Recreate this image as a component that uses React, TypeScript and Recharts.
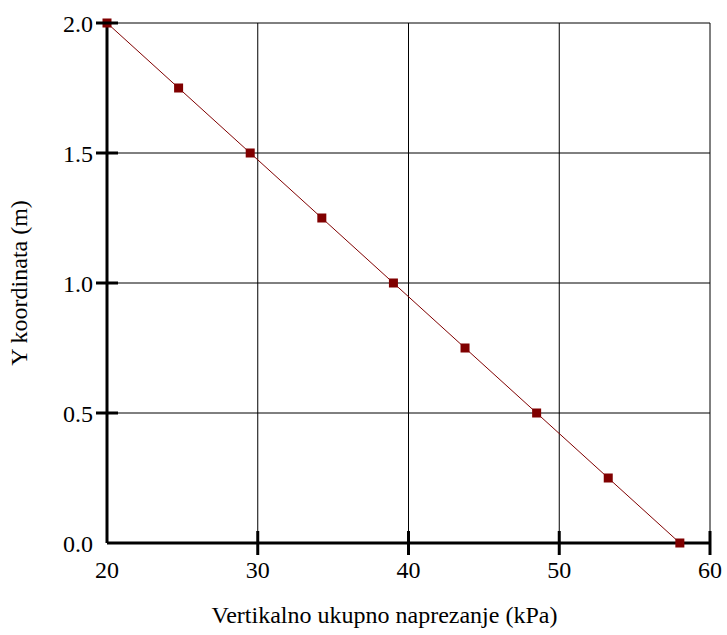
import { LineChart, Line, XAxis, YAxis, CartesianGrid, Label } from 'recharts'

// vertical total stress along the depth coordinate
const stress = [20, 24.75, 29.5, 34.25, 39.0, 43.75, 48.5, 53.25, 58.0]
const yCoord = [2.0, 1.75, 1.5, 1.25, 1.0, 0.75, 0.5, 0.25, 0.0]
const xTicks = [20, 30, 40, 50, 60]
const yTicks = [0, 0.5, 1.0, 1.5, 2.0]

const data = stress.map((x, i) => ({ x, y: yCoord[i] }))

const FONT = '"Liberation Serif", "Times New Roman", serif'
const MARK = '#800000'
const textStyle = { fontFamily: FONT, fontSize: 24, fill: '#000' }

const XTick = ({ x, y, payload }: any) => (
  <g>
    {payload.value !== 20 && <line x1={x} x2={x} y1={y - 12} y2={y + 12} stroke="#000" strokeWidth={3} />}
    <text x={x} y={y + 35} textAnchor="middle" style={textStyle}>
      {payload.value}
    </text>
  </g>
)

const YTick = ({ x, y, payload }: any) => (
  <g>
    {payload.value !== 0 && <line x1={x - 11} x2={x + 11} y1={y} y2={y} stroke="#000" strokeWidth={3} />}
    <text x={x - 14} y={y + 9} textAnchor="end" style={textStyle}>
      {payload.value.toFixed(1)}
    </text>
  </g>
)

const SquareDot = ({ cx, cy }: any) => <rect x={cx - 4.5} y={cy - 4.5} width={9} height={9} fill={MARK} />

export default function App() {
  return (
    <div style={{ position: 'absolute', left: 0, top: 0, background: '#fff', fontFamily: FONT }}>
      <LineChart width={727} height={635} data={data} margin={{ top: 23, right: 17, bottom: 32, left: 0 }}>
        <CartesianGrid stroke="#000" strokeWidth={1} />
        <XAxis
          type="number"
          dataKey="x"
          domain={[20, 60]}
          ticks={xTicks}
          height={60}
          tickLine={false}
          tickSize={0}
          tickMargin={0}
          axisLine={{ stroke: '#000', strokeWidth: 3 }}
          tick={<XTick />}
        >
          <Label
            value="Vertikalno ukupno naprezanje (kPa)"
            position="insideBottom"
            offset={-20}
            dx={-24}
            style={textStyle}
          />
        </XAxis>
        <YAxis
          type="number"
          dataKey="y"
          domain={[0, 2]}
          ticks={yTicks}
          width={107}
          tickLine={false}
          tickSize={0}
          tickMargin={0}
          axisLine={{ stroke: '#000', strokeWidth: 3 }}
          tick={<YTick />}
        >
          <Label
            value="Y koordinata (m)"
            angle={-90}
            position="insideLeft"
            offset={18}
            style={{ ...textStyle, textAnchor: 'middle' }}
          />
        </YAxis>
        <Line
          type="linear"
          dataKey="y"
          stroke={MARK}
          strokeWidth={1}
          dot={<SquareDot />}
          activeDot={false}
          isAnimationActive={false}
        />
      </LineChart>
    </div>
  )
}
